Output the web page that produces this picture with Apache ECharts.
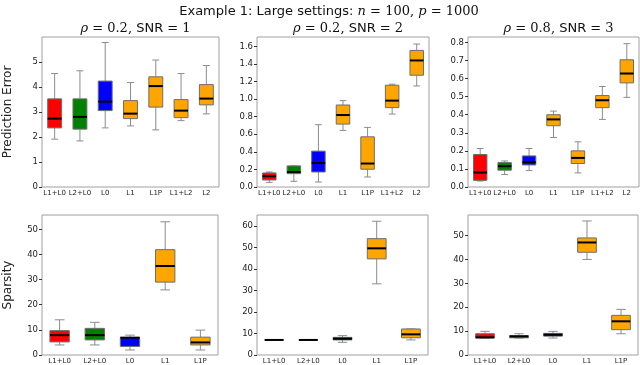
<!DOCTYPE html>
<html>
<head>
<meta charset="utf-8">
<script src="https://cdn.jsdelivr.net/npm/echarts@6/dist/echarts.min.js"></script>
<style>
html, body { margin: 0; padding: 0; background: #fff; }
#main { width: 640px; height: 365px; }
</style>
</head>
<body>
<div id="main"></div>
<script>
// methods on the x axis
var catsTop = ['L1+L0', 'L2+L0', 'L0', 'L1', 'L1P', 'L1+L2', 'L2'];
var catsBottom = ['L1+L0', 'L2+L0', 'L0', 'L1', 'L1P'];
var boxColors = ['#ff0000', '#008000', '#0000ff', '#ffa500', '#ffa500', '#ffa500', '#ffa500'];

// each box: [low whisker, Q1, median, Q3, high whisker]
var predErr1 = [[1.91, 2.36, 2.73, 3.52, 4.53], [1.84, 2.31, 2.80, 3.52, 4.64], [2.36, 3.05, 3.41, 4.23, 5.77],
	[2.44, 2.73, 2.93, 3.45, 4.17], [2.28, 3.19, 4.03, 4.40, 5.07], [2.65, 2.77, 3.05, 3.49, 4.53], [2.92, 3.28, 3.53, 4.09, 4.85]];
var predErr2 = [[0.053, 0.08, 0.122, 0.16, 0.171], [0.065, 0.152, 0.171, 0.24, 0.24], [0.057, 0.171, 0.274, 0.408, 0.709],
	[0.644, 0.716, 0.819, 0.933, 0.983], [0.114, 0.202, 0.267, 0.571, 0.678], [0.83, 0.903, 0.983, 1.158, 1.17], [1.15, 1.272, 1.44, 1.554, 1.627]];
var predErr3 = [[0.033, 0.037, 0.08, 0.18, 0.213], [0.069, 0.093, 0.115, 0.135, 0.144], [0.091, 0.122, 0.137, 0.172, 0.213],
	[0.274, 0.339, 0.374, 0.40, 0.42], [0.078, 0.13, 0.161, 0.20, 0.25], [0.374, 0.439, 0.48, 0.506, 0.556], [0.496, 0.576, 0.628, 0.704, 0.793]];
var sparsity1 = [[4, 5.2, 7.9, 9.7, 14], [4, 6, 7.9, 10.6, 13], [2, 3.4, 6.9, 6.9, 7.9], [25.9, 29, 35.4, 41.9, 53], [2, 4, 5, 7.1, 9.9]];
var sparsity2 = [[7, 7, 7, 7, 7], [7, 7, 7, 7, 7], [5.9, 7, 7.6, 8.2, 9], [33.1, 44.7, 49.6, 54.1, 62.2], [7, 8, 9.6, 12.1, 12.1]];
var sparsity3 = [[7.1, 7.1, 7.4, 8.9, 9.9], [7.1, 7.2, 7.8, 8.1, 8.9], [7.1, 7.9, 8.5, 9.05, 9.9], [40, 43, 47.1, 49, 56.1], [8.9, 10.6, 14.1, 16.6, 19.1]];

// tick labels
var peTicks1 = [0, 1, 2, 3, 4, 5];
var peTicks2 = [0, 0.2, 0.4, 0.6, 0.8, 1.0, 1.2, 1.4, 1.6];
var peTicks3 = [0, 0.1, 0.2, 0.3, 0.4, 0.5, 0.6, 0.7, 0.8];
var spTicks1 = [0, 10, 20, 30, 40, 50];
var spTicks2 = [0, 10, 20, 30, 40, 50, 60];
var spTicks3 = [0, 10, 20, 30, 40, 50];

var colTitles = ['1', '2', '3'];
var rhoVals = ['0.2', '0.2', '0.8'];

var chart = echarts.init(document.getElementById('main'));

var panels = [
	{ data: predErr1, cats: catsTop, ticks: peTicks1, max: 5.99, dec: 0, grid: { left: 42, top: 37, width: 177, height: 150 } },
	{ data: predErr2, cats: catsTop, ticks: peTicks2, max: 1.707, dec: 1, grid: { left: 257, top: 37, width: 172, height: 150 } },
	{ data: predErr3, cats: catsTop, ticks: peTicks3, max: 0.83, dec: 1, grid: { left: 468, top: 37, width: 171, height: 150 } },
	{ data: sparsity1, cats: catsBottom, ticks: spTicks1, max: 55.7, dec: 0, grid: { left: 42, top: 215, width: 176, height: 140 } },
	{ data: sparsity2, cats: catsBottom, ticks: spTicks2, max: 65.1, dec: 0, grid: { left: 257, top: 215, width: 171, height: 140 } },
	{ data: sparsity3, cats: catsBottom, ticks: spTicks3, max: 58.6, dec: 0, grid: { left: 468, top: 215, width: 170, height: 140 } }
];

function renderBox(params, api) {
	var x = api.value(0);
	var lo = api.coord([x, api.value(1)]);
	var q1 = api.coord([x, api.value(2)]);
	var md = api.coord([x, api.value(3)]);
	var q3 = api.coord([x, api.value(4)]);
	var hi = api.coord([x, api.value(5)]);
	var bw = api.size([1, 0])[0] * 0.55;
	var cx = lo[0];
	var whisk = { stroke: '#8c8c8c', lineWidth: 1 };
	return {
		type: 'group',
		children: [
			{ type: 'line', shape: { x1: cx, y1: lo[1], x2: cx, y2: q1[1] }, style: whisk },
			{ type: 'line', shape: { x1: cx, y1: q3[1], x2: cx, y2: hi[1] }, style: whisk },
			{ type: 'line', shape: { x1: cx - bw / 4, y1: lo[1], x2: cx + bw / 4, y2: lo[1] }, style: whisk },
			{ type: 'line', shape: { x1: cx - bw / 4, y1: hi[1], x2: cx + bw / 4, y2: hi[1] }, style: whisk },
			{ type: 'rect', shape: { x: cx - bw / 2, y: q3[1], width: bw, height: q1[1] - q3[1] },
				style: { fill: boxColors[x], stroke: '#6e6e6e', lineWidth: 1 } },
			{ type: 'line', shape: { x1: cx - bw / 2, y1: md[1], x2: cx + bw / 2, y2: md[1] }, style: { stroke: '#000', lineWidth: 2 } }
		]
	};
}

var grids = [], xAxes = [], yAxes = [], series = [];
panels.forEach(function(p, i) {
	grids.push(Object.assign({ show: true, borderColor: '#a0a0a0', borderWidth: 1 }, p.grid));
	xAxes.push({
		type: 'category', gridIndex: i, data: p.cats,
		axisLine: { show: false }, axisTick: { show: false },
		axisLabel: { interval: 0, hideOverlap: false, fontFamily: 'DejaVu Sans', fontSize: 7, color: '#222', margin: 3 }
	});
	yAxes.push({
		type: 'value', gridIndex: i, min: 0, max: p.max,
		name: i == 0 ? 'Prediction Error' : (i == 3 ? 'Sparsity' : ''),
		nameLocation: 'middle', nameRotate: 90, nameGap: 28,
		nameTextStyle: { fontFamily: 'DejaVu Sans', fontSize: 12, color: '#222' },
		splitLine: { show: false }, axisLine: { show: false },
		axisTick: { show: true, length: 3, lineStyle: { color: '#333' }, customValues: p.ticks },
		axisLabel: {
			fontFamily: 'DejaVu Sans', fontSize: 8.5, color: '#222', margin: 4, customValues: p.ticks,
			formatter: function(v) { return v.toFixed(p.dec); }
		}
	});
	series.push({
		type: 'custom', xAxisIndex: i, yAxisIndex: i,
		renderItem: renderBox,
		encode: { x: 0, y: [1, 2, 3, 4, 5] },
		data: p.data.map(function(b, k) { return [k].concat(b); })
	});
});

var titles = [{
	text: 'Example 1: Large settings: {m|n} {s|= 100,} {m|p} {s|= 1000}',
	left: 324, top: 0, textAlign: 'center',
	textStyle: {
		fontFamily: 'DejaVu Sans', fontSize: 13, fontWeight: 'normal', color: '#111',
		rich: {
			m: { fontFamily: 'DejaVu Serif', fontStyle: 'italic', fontSize: 13, color: '#111' },
			s: { fontFamily: 'DejaVu Serif', fontSize: 13, color: '#111' }
		}
	}
}];
[0, 1, 2].forEach(function(i) {
	var g = panels[i].grid;
	titles.push({
		text: '{m|ρ} {s|= ' + rhoVals[i] + ',} SNR {s|= ' + colTitles[i] + '}',
		left: g.left + g.width / 2, top: 17, textAlign: 'center',
		textStyle: {
			fontFamily: 'DejaVu Sans', fontSize: 13, fontWeight: 'normal', color: '#111',
			rich: {
				m: { fontFamily: 'DejaVu Serif', fontStyle: 'italic', fontSize: 13, color: '#111' },
				s: { fontFamily: 'DejaVu Serif', fontSize: 13, color: '#111' }
			}
		}
	});
});

chart.setOption({
	animation: false,
	title: titles,
	grid: grids,
	xAxis: xAxes,
	yAxis: yAxes,
	series: series
});
</script>
</body>
</html>
